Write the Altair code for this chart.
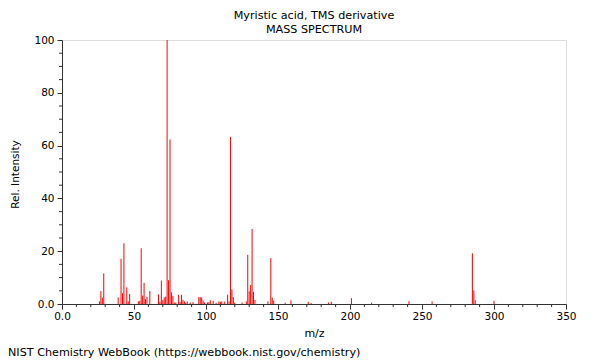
import altair as alt
import pandas as pd

# m/z values and relative intensities
mz = [26, 27, 28, 29, 39, 41, 42, 43, 45, 46, 47, 53, 54, 55, 56, 57, 58, 59, 61,
      67, 68, 69, 70, 71, 72, 73, 74, 75, 76, 77, 78, 79, 81, 82, 83, 84, 85, 86, 87,
      89, 91, 95, 96, 97, 98, 99, 101, 102, 103, 105, 107, 109, 110, 111, 113, 115,
      116, 117, 118, 119, 120, 125, 128, 129, 130, 131, 132, 133, 134, 143, 145, 146,
      147, 155, 159, 171, 173, 185, 187, 201, 215, 241, 257, 285, 286, 287, 300]
intensity = [1.0, 4.9, 2.4, 11.6, 2.5, 17.1, 4.1, 23.0, 6.3, 1.0, 3.8, 1.0, 1.2, 21.1,
             3.2, 8.0, 1.8, 2.6, 4.9, 3.6, 0.8, 8.9, 1.5, 2.5, 2.8, 100.0, 9.0, 62.3,
             4.4, 3.1, 0.5, 0.6, 3.5, 0.8, 3.5, 1.6, 1.0, 0.5, 0.9, 0.6, 0.7, 2.6, 2.6,
             2.5, 1.3, 0.6, 0.6, 0.7, 1.4, 1.2, 0.5, 1.0, 0.8, 1.0, 0.9, 3.5, 1.0, 63.3,
             5.5, 2.6, 0.5, 0.6, 1.0, 18.6, 4.8, 7.2, 28.4, 4.6, 1.5, 1.0, 17.4, 2.4,
             1.3, 0.5, 1.4, 0.8, 0.4, 0.6, 0.9, 2.2, 0.5, 1.1, 1.0, 19.2, 5.1, 1.4, 1.2]

x_major = [0, 50, 100, 150, 200, 250, 300, 350]
x_minor = [10, 20, 30, 40, 60, 70, 80, 90, 110, 120, 130, 140, 160, 170, 180, 190,
           210, 220, 230, 240, 260, 270, 280, 290, 310, 320, 330, 340]
y_major = [0, 20, 40, 60, 80, 100]
y_minor = [5, 10, 15, 25, 30, 35, 45, 50, 55, 65, 70, 75, 85, 90, 95]

title_lines = ["Myristic acid, TMS derivative", "MASS SPECTRUM"]
footer = "NIST Chemistry WebBook (https://webbook.nist.gov/chemistry)"

FONT = "DejaVu Sans"
W, H = 504, 264

peaks = pd.DataFrame({"mz": mz, "intensity": intensity})

xscale = alt.Scale(domain=[0, 350], nice=False, zero=False)
yscale = alt.Scale(domain=[0, 100], nice=False)

bars = alt.Chart(peaks).mark_rule(color="#ff0000", strokeWidth=1).encode(
    x=alt.X("mz:Q", scale=xscale,
            axis=alt.Axis(values=x_major, title="m/z", tickSize=5, grid=False,
                          labelExpr="datum.value == 0 ? '0.0' : datum.label",
                          labelFont=FONT, labelFontSize=10.5, labelColor="#000",
                          labelPadding=2, titleFont=FONT, titleFontSize=11,
                          titleFontWeight="normal", titleColor="#000",
                          titleY=29, titleBaseline="middle",
                          domainColor="#333", tickColor="#333", labelFlush=False)),
    y=alt.Y("intensity:Q", scale=yscale,
            axis=alt.Axis(values=y_major, title="Rel. Intensity", tickSize=5, grid=False,
                          labelExpr="datum.value == 0 ? '0.0' : datum.label",
                          labelFont=FONT, labelFontSize=10.5, labelColor="#000",
                          labelPadding=3, titleFont=FONT, titleFontSize=10.5,
                          titleFontWeight="normal", titleColor="#000",
                          titleX=-47, titleY=134, titleBaseline="middle",
                          domainColor="#333", tickColor="#333", labelFlush=False)),
    y2=alt.datum(0),
)

xminor = alt.Chart(pd.DataFrame({"v": x_minor})).mark_rule(color="#333", strokeWidth=1).encode(
    x=alt.X("v:Q", scale=xscale), y=alt.value(H), y2=alt.value(H + 3)
)
yminor = alt.Chart(pd.DataFrame({"v": y_minor})).mark_rule(color="#333", strokeWidth=1).encode(
    y=alt.Y("v:Q", scale=yscale), x=alt.value(-3), x2=alt.value(0)
)

title_df = pd.DataFrame({"t": title_lines, "yy": [-24.5, -10]})
titles = alt.Chart(title_df).mark_text(font=FONT, fontSize=11.2, color="#000",
                                       align="center", baseline="middle").encode(
    text="t:N", x=alt.value(W / 2), y=alt.Y("yy:Q", scale=None)
)

foot = alt.Chart(pd.DataFrame({"t": [footer]})).mark_text(
    font=FONT, fontSize=11.2, color="#000", align="left", baseline="middle"
).encode(text="t:N", x=alt.value(-54), y=alt.value(H + 49))

chart = alt.layer(bars, xminor, yminor, titles, foot).properties(
    width=W, height=H,
    autosize=alt.AutoSizeParams(type="none"),
    padding={"left": 54, "top": 32, "right": 26, "bottom": 56},
).configure_view(stroke="#333", strokeWidth=1).configure(background="white")

chart.save("out.html", embed_options={"renderer": "svg", "actions": False})
